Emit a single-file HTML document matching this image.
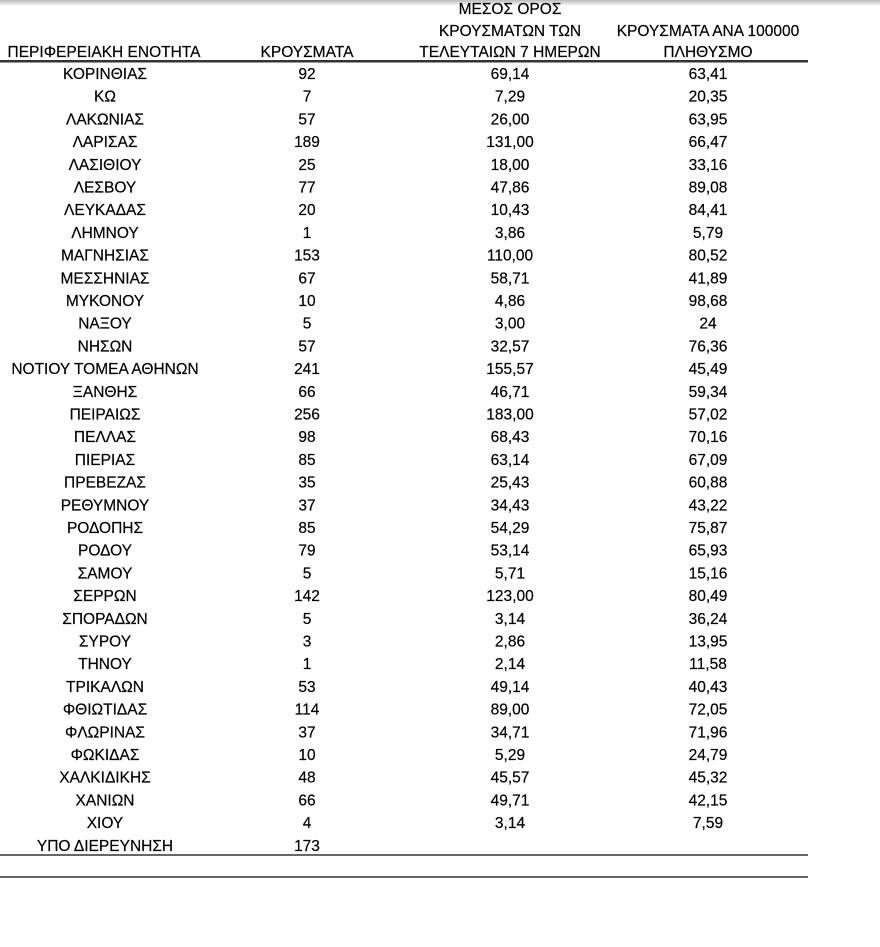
<!DOCTYPE html>
<html><head><meta charset="utf-8"><style>
html,body{margin:0;padding:0;background:#fff;width:880px;height:947px;overflow:hidden}
svg{display:block}
text{font-family:"Liberation Sans","DejaVu Sans",sans-serif;font-size:15.5px;fill:#000;text-anchor:middle;stroke:#000;stroke-width:0.2}
</style></head><body>
<svg width="880" height="947" viewBox="0 0 880 947">
<defs><linearGradient id="g" x1="0" y1="0" x2="0" y2="1"><stop offset="0" stop-color="#bbb"/><stop offset="1" stop-color="#fff"/></linearGradient></defs>
<rect x="0" y="0" width="880" height="6" fill="url(#g)"/>
<text x="510" y="14">ΜΕΣΟΣ ΟΡΟΣ</text>
<text x="510" y="36">ΚΡΟΥΣΜΑΤΩΝ ΤΩΝ</text>
<text x="708" y="36">ΚΡΟΥΣΜΑΤΑ ΑΝΑ 100000</text>
<text x="104" y="57">ΠΕΡΙΦΕΡΕΙΑΚΗ ΕΝΟΤΗΤΑ</text>
<text x="307" y="57">ΚΡΟΥΣΜΑΤΑ</text>
<text x="510" y="57">ΤΕΛΕΥΤΑΙΩΝ 7 ΗΜΕΡΩΝ</text>
<text x="708" y="57">ΠΛΗΘΥΣΜΟ</text>
<rect x="0" y="60" width="808" height="2.5" fill="#333"/>
<g id="rows">
<g transform="translate(0,79)"><text x="105">ΚΟΡΙΝΘΙΑΣ</text><text x="307">92</text><text x="510">69,14</text><text x="708">63,41</text></g>
<g transform="translate(0,101.7)"><text x="105">ΚΩ</text><text x="307">7</text><text x="510">7,29</text><text x="708">20,35</text></g>
<g transform="translate(0,124.4)"><text x="105">ΛΑΚΩΝΙΑΣ</text><text x="307">57</text><text x="510">26,00</text><text x="708">63,95</text></g>
<g transform="translate(0,147.1)"><text x="105">ΛΑΡΙΣΑΣ</text><text x="307">189</text><text x="510">131,00</text><text x="708">66,47</text></g>
<g transform="translate(0,169.8)"><text x="105">ΛΑΣΙΘΙΟΥ</text><text x="307">25</text><text x="510">18,00</text><text x="708">33,16</text></g>
<g transform="translate(0,192.5)"><text x="105">ΛΕΣΒΟΥ</text><text x="307">77</text><text x="510">47,86</text><text x="708">89,08</text></g>
<g transform="translate(0,215.2)"><text x="105">ΛΕΥΚΑΔΑΣ</text><text x="307">20</text><text x="510">10,43</text><text x="708">84,41</text></g>
<g transform="translate(0,237.9)"><text x="105">ΛΗΜΝΟΥ</text><text x="307">1</text><text x="510">3,86</text><text x="708">5,79</text></g>
<g transform="translate(0,260.6)"><text x="105">ΜΑΓΝΗΣΙΑΣ</text><text x="307">153</text><text x="510">110,00</text><text x="708">80,52</text></g>
<g transform="translate(0,283.3)"><text x="105">ΜΕΣΣΗΝΙΑΣ</text><text x="307">67</text><text x="510">58,71</text><text x="708">41,89</text></g>
<g transform="translate(0,306)"><text x="105">ΜΥΚΟΝΟΥ</text><text x="307">10</text><text x="510">4,86</text><text x="708">98,68</text></g>
<g transform="translate(0,328.7)"><text x="105">ΝΑΞΟΥ</text><text x="307">5</text><text x="510">3,00</text><text x="708">24</text></g>
<g transform="translate(0,351.4)"><text x="105">ΝΗΣΩΝ</text><text x="307">57</text><text x="510">32,57</text><text x="708">76,36</text></g>
<g transform="translate(0,374.1)"><text x="105">ΝΟΤΙΟΥ ΤΟΜΕΑ ΑΘΗΝΩΝ</text><text x="307">241</text><text x="510">155,57</text><text x="708">45,49</text></g>
<g transform="translate(0,396.8)"><text x="105">ΞΑΝΘΗΣ</text><text x="307">66</text><text x="510">46,71</text><text x="708">59,34</text></g>
<g transform="translate(0,419.5)"><text x="105">ΠΕΙΡΑΙΩΣ</text><text x="307">256</text><text x="510">183,00</text><text x="708">57,02</text></g>
<g transform="translate(0,442.2)"><text x="105">ΠΕΛΛΑΣ</text><text x="307">98</text><text x="510">68,43</text><text x="708">70,16</text></g>
<g transform="translate(0,464.9)"><text x="105">ΠΙΕΡΙΑΣ</text><text x="307">85</text><text x="510">63,14</text><text x="708">67,09</text></g>
<g transform="translate(0,487.6)"><text x="105">ΠΡΕΒΕΖΑΣ</text><text x="307">35</text><text x="510">25,43</text><text x="708">60,88</text></g>
<g transform="translate(0,510.3)"><text x="105">ΡΕΘΥΜΝΟΥ</text><text x="307">37</text><text x="510">34,43</text><text x="708">43,22</text></g>
<g transform="translate(0,533)"><text x="105">ΡΟΔΟΠΗΣ</text><text x="307">85</text><text x="510">54,29</text><text x="708">75,87</text></g>
<g transform="translate(0,555.7)"><text x="105">ΡΟΔΟΥ</text><text x="307">79</text><text x="510">53,14</text><text x="708">65,93</text></g>
<g transform="translate(0,578.4)"><text x="105">ΣΑΜΟΥ</text><text x="307">5</text><text x="510">5,71</text><text x="708">15,16</text></g>
<g transform="translate(0,601.1)"><text x="105">ΣΕΡΡΩΝ</text><text x="307">142</text><text x="510">123,00</text><text x="708">80,49</text></g>
<g transform="translate(0,623.8)"><text x="105">ΣΠΟΡΑΔΩΝ</text><text x="307">5</text><text x="510">3,14</text><text x="708">36,24</text></g>
<g transform="translate(0,646.5)"><text x="105">ΣΥΡΟΥ</text><text x="307">3</text><text x="510">2,86</text><text x="708">13,95</text></g>
<g transform="translate(0,669.2)"><text x="105">ΤΗΝΟΥ</text><text x="307">1</text><text x="510">2,14</text><text x="708">11,58</text></g>
<g transform="translate(0,691.9)"><text x="105">ΤΡΙΚΑΛΩΝ</text><text x="307">53</text><text x="510">49,14</text><text x="708">40,43</text></g>
<g transform="translate(0,714.6)"><text x="105">ΦΘΙΩΤΙΔΑΣ</text><text x="307">114</text><text x="510">89,00</text><text x="708">72,05</text></g>
<g transform="translate(0,737.3)"><text x="105">ΦΛΩΡΙΝΑΣ</text><text x="307">37</text><text x="510">34,71</text><text x="708">71,96</text></g>
<g transform="translate(0,760)"><text x="105">ΦΩΚΙΔΑΣ</text><text x="307">10</text><text x="510">5,29</text><text x="708">24,79</text></g>
<g transform="translate(0,782.7)"><text x="105">ΧΑΛΚΙΔΙΚΗΣ</text><text x="307">48</text><text x="510">45,57</text><text x="708">45,32</text></g>
<g transform="translate(0,805.4)"><text x="105">ΧΑΝΙΩΝ</text><text x="307">66</text><text x="510">49,71</text><text x="708">42,15</text></g>
<g transform="translate(0,828.1)"><text x="105">ΧΙΟΥ</text><text x="307">4</text><text x="510">3,14</text><text x="708">7,59</text></g>
<g transform="translate(0,850.8)"><text x="105">ΥΠΟ ΔΙΕΡΕΥΝΗΣΗ</text><text x="307">173</text></g>
</g>
<rect x="0" y="854" width="808" height="2" fill="#666"/>
<rect x="0" y="876" width="808" height="2" fill="#666"/>
</svg>
</body></html>
